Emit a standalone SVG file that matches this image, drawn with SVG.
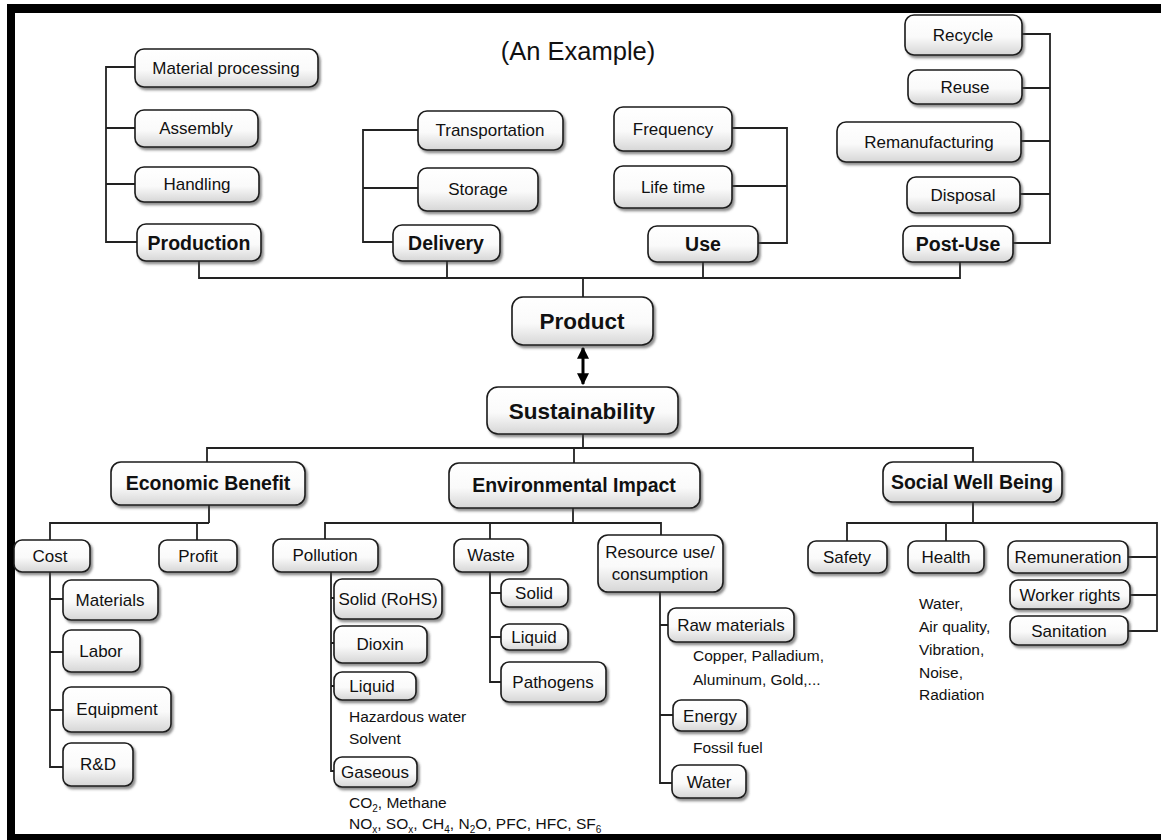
<svg xmlns="http://www.w3.org/2000/svg" width="1161" height="840" viewBox="0 0 1161 840">
<defs>
<linearGradient id="g" x1="0" y1="0" x2="0" y2="1">
<stop offset="0" stop-color="#ffffff"/><stop offset="0.55" stop-color="#fafafa"/><stop offset="1" stop-color="#d6d6d6"/>
</linearGradient>
<filter id="sh" x="-10%" y="-20%" width="130%" height="150%">
<feDropShadow dx="2" dy="2.5" stdDeviation="1.3" flood-color="#444" flood-opacity="0.6"/>
</filter>
<marker id="ah" viewBox="0 0 10 10" refX="9" refY="5" markerWidth="4" markerHeight="4.5" orient="auto-start-reverse" markerUnits="strokeWidth">
<path d="M0,0 L10,5 L0,10 z" fill="#000"/>
</marker>
<style>
.b rect{fill:url(#g);stroke:#1a1a1a;stroke-width:1.6;filter:url(#sh)}
text{font-family:"Liberation Sans",Arial,sans-serif;fill:#111}
.t{font-size:17px;text-anchor:middle}
.tb{font-size:19.5px;font-weight:bold;text-anchor:middle}
.tl{font-size:22.5px;font-weight:bold;text-anchor:middle}
.n{font-size:15.5px;fill:#333}
.c line,.c path{stroke:#222;stroke-width:1.8;fill:none}
</style>
</defs>
<rect width="1161" height="840" fill="#fff"/>
<g id="frame" fill="#000">
<rect x="7" y="4" width="1154" height="9"/>
<rect x="7" y="4" width="8" height="836"/>
<rect x="7" y="834" width="1154" height="6"/>
</g>
<text id="title" x="578" y="60" style="font-size:25.5px;text-anchor:middle">(An Example)</text>
<g id="connectors" class="c">
<path d="M135,67 H106 V242 H137 M106,128 H135 M106,184 H135"/>
<path d="M418,130 H363 V242 H393 M363,188 H418"/>
<path d="M732,128 H787 V243 H758 M732,186 H787"/>
<path d="M1022,34 H1050 V243 H1013 M1022,88 H1050 M1021,141 H1050 M1020,194 H1050"/>
<path d="M199,261 V278 H960 V262 M447,261 V278 M703,262 V278 M583,278 V297"/>
<line x1="583" y1="348" x2="583" y2="384" marker-start="url(#ah)" marker-end="url(#ah)" style="stroke:#000;stroke-width:3"/>
<path d="M583,434 V448 M207,462 V448 H973 V462 M574,448 V463"/>
<path d="M209,505 V523 M50,540 V523 H209 M197,523 V540 M50,572 V767 H63 M50,599 H63 M50,652 H63 M50,710 H63"/>
<path d="M573,508 V523 M325,539 V523 H661 V535 M490,523 V539"/>
<path d="M331,572 V771 H334 M331,598 H334 M331,643 H334 M331,686 H334"/>
<path d="M490,572 V682 H501 M490,593 H501 M490,637 H501"/>
<path d="M660,592 V783 H672 M660,625 H668 M660,715 H673"/>
<path d="M973,502 V523 M847,541 V523 H1157 V631 H1128 M946,523 V541 M1128,557 H1157 M1130,595 H1157"/>
</g>
<g class="b">
<g id="n-material"><rect x="135" y="49" width="183" height="38" rx="9"/><text class="t" x="226" y="74">Material processing</text></g>
<g id="n-assembly"><rect x="135" y="110" width="123" height="37" rx="9"/><text class="t" x="196" y="134">Assembly</text></g>
<g id="n-handling"><rect x="135" y="167" width="124" height="35" rx="9"/><text class="t" x="197" y="190">Handling</text></g>
<g id="n-production"><rect x="137" y="224" width="124" height="37" rx="9"/><text class="tb" x="199" y="250">Production</text></g>
<g id="n-transportation"><rect x="418" y="111" width="145" height="39" rx="9"/><text class="t" x="490" y="136">Transportation</text></g>
<g id="n-storage"><rect x="418" y="168" width="120" height="43" rx="9"/><text class="t" x="478" y="195">Storage</text></g>
<g id="n-delivery"><rect x="393" y="225" width="107" height="36" rx="9"/><text class="tb" x="446" y="250">Delivery</text></g>
<g id="n-frequency"><rect x="614" y="107" width="118" height="44" rx="9"/><text class="t" x="673" y="135">Frequency</text></g>
<g id="n-lifetime"><rect x="614" y="166" width="118" height="42" rx="9"/><text class="t" x="673" y="193">Life time</text></g>
<g id="n-use"><rect x="648" y="226" width="110" height="36" rx="9"/><text class="tb" x="703" y="251">Use</text></g>
<g id="n-recycle"><rect x="905" y="15" width="117" height="40" rx="9"/><text class="t" x="963" y="41">Recycle</text></g>
<g id="n-reuse"><rect x="908" y="70" width="114" height="34" rx="9"/><text class="t" x="965" y="93">Reuse</text></g>
<g id="n-reman"><rect x="837" y="122" width="184" height="40" rx="9"/><text class="t" x="929" y="148">Remanufacturing</text></g>
<g id="n-disposal"><rect x="907" y="177" width="113" height="36" rx="9"/><text class="t" x="963" y="201">Disposal</text></g>
<g id="n-postuse"><rect x="903" y="226" width="110" height="36" rx="9"/><text class="tb" x="958" y="251">Post-Use</text></g>
<g id="n-product"><rect x="512" y="297" width="141" height="48" rx="11"/><text class="tl" x="582" y="329">Product</text></g>
<g id="n-sustainability"><rect x="487" y="387" width="191" height="47" rx="11"/><text class="tl" x="582" y="419">Sustainability</text></g>
<g id="n-economic"><rect x="111" y="462" width="194" height="43" rx="10"/><text class="tb" x="208" y="490">Economic Benefit</text></g>
<g id="n-environmental"><rect x="449" y="463" width="251" height="45" rx="10"/><text class="tb" x="574" y="492">Environmental Impact</text></g>
<g id="n-social"><rect x="883" y="462" width="179" height="40" rx="10"/><text class="tb" x="972" y="489">Social Well Being</text></g>
<g id="n-cost"><rect x="14" y="540" width="76" height="32" rx="8"/><text class="t" x="50" y="562">Cost</text></g>
<g id="n-profit"><rect x="159" y="540" width="78" height="32" rx="8"/><text class="t" x="198" y="562">Profit</text></g>
<g id="n-materials"><rect x="63" y="580" width="95" height="40" rx="8"/><text class="t" x="110" y="606">Materials</text></g>
<g id="n-labor"><rect x="63" y="630" width="77" height="42" rx="8"/><text class="t" x="101" y="657">Labor</text></g>
<g id="n-equipment"><rect x="63" y="687" width="108" height="45" rx="8"/><text class="t" x="117" y="715">Equipment</text></g>
<g id="n-rnd"><rect x="63" y="743" width="70" height="43" rx="8"/><text class="t" x="98" y="770">R&amp;D</text></g>
<g id="n-pollution"><rect x="273" y="539" width="105" height="33" rx="8"/><text class="t" x="325" y="561">Pollution</text></g>
<g id="n-solidrohs"><rect x="334" y="579" width="108" height="40" rx="8"/><text class="t" x="388" y="605">Solid (RoHS)</text></g>
<g id="n-dioxin"><rect x="334" y="626" width="93" height="37" rx="8"/><text class="t" x="380" y="650">Dioxin</text></g>
<g id="n-liquid1"><rect x="334" y="672" width="82" height="28" rx="8"/><text class="t" x="372" y="692">Liquid</text></g>
<g id="n-gaseous"><rect x="334" y="757" width="83" height="30" rx="8"/><text class="t" x="375" y="778">Gaseous</text></g>
<g id="n-waste"><rect x="454" y="539" width="74" height="33" rx="8"/><text class="t" x="491" y="561">Waste</text></g>
<g id="n-solid"><rect x="501" y="579" width="67" height="28" rx="8"/><text class="t" x="534" y="599">Solid</text></g>
<g id="n-liquid2"><rect x="501" y="624" width="67" height="26" rx="8"/><text class="t" x="534" y="643">Liquid</text></g>
<g id="n-pathogens"><rect x="501" y="662" width="105" height="40" rx="8"/><text class="t" x="553" y="688">Pathogens</text></g>
<g id="n-resource"><rect x="598" y="535" width="125" height="57" rx="10"/><text class="t" x="660" y="558">Resource use/</text><text class="t" x="660" y="580">consumption</text></g>
<g id="n-raw"><rect x="668" y="608" width="126" height="34" rx="8"/><text class="t" x="731" y="631">Raw materials</text></g>
<g id="n-energy"><rect x="673" y="700" width="74" height="31" rx="8"/><text class="t" x="710" y="722">Energy</text></g>
<g id="n-water"><rect x="672" y="765" width="74" height="33" rx="8"/><text class="t" x="709" y="788">Water</text></g>
<g id="n-safety"><rect x="808" y="541" width="79" height="32" rx="8"/><text class="t" x="847" y="563">Safety</text></g>
<g id="n-health"><rect x="908" y="541" width="76" height="32" rx="8"/><text class="t" x="946" y="563">Health</text></g>
<g id="n-remuneration"><rect x="1008" y="541" width="120" height="32" rx="8"/><text class="t" x="1068" y="563">Remuneration</text></g>
<g id="n-worker"><rect x="1010" y="580" width="120" height="29" rx="8"/><text class="t" x="1070" y="601">Worker rights</text></g>
<g id="n-sanitation"><rect x="1010" y="616" width="118" height="29" rx="8"/><text class="t" x="1069" y="637">Sanitation</text></g>
</g>
<g id="notes" class="n">
<text x="349" y="722">Hazardous water</text>
<text x="349" y="744">Solvent</text>
<text x="349" y="808">CO<tspan font-size="10" dy="4">2</tspan><tspan dy="-4">, Methane</tspan></text>
<text x="349" y="829">NO<tspan font-size="10" dy="4">x</tspan><tspan dy="-4">, SO</tspan><tspan font-size="10" dy="4">x</tspan><tspan dy="-4">, CH</tspan><tspan font-size="10" dy="4">4</tspan><tspan dy="-4">, N</tspan><tspan font-size="10" dy="4">2</tspan><tspan dy="-4">O, PFC, HFC, SF</tspan><tspan font-size="10" dy="4">6</tspan></text>
<text x="693" y="661">Copper, Palladium,</text>
<text x="693" y="685">Aluminum, Gold,...</text>
<text x="693" y="753">Fossil fuel</text>
<text x="919" y="609">Water,</text>
<text x="919" y="632">Air quality,</text>
<text x="919" y="655">Vibration,</text>
<text x="919" y="678">Noise,</text>
<text x="919" y="700">Radiation</text>
</g>
</svg>
